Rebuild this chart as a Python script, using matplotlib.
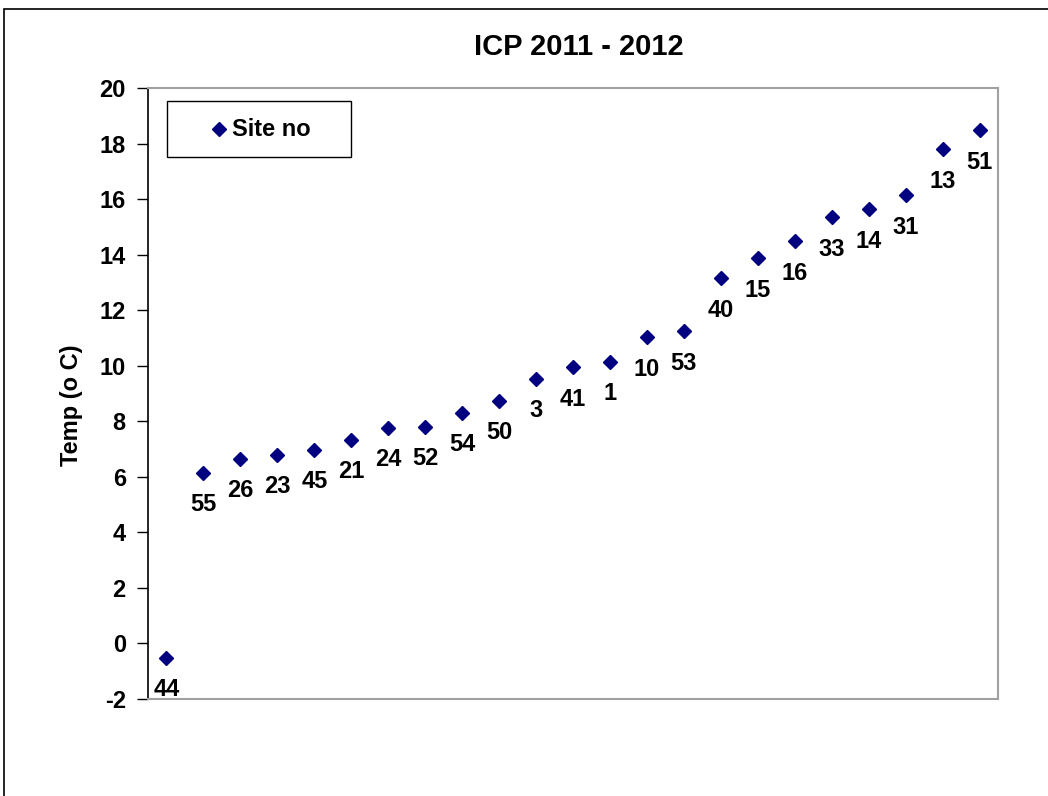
import matplotlib
matplotlib.use("Agg")
import matplotlib.pyplot as plt
from matplotlib.patches import Rectangle

plt.rcParams['font.family'] = ['Liberation Sans', 'DejaVu Sans']
plt.rcParams['font.weight'] = 'bold'

site_labels = ['44', '55', '26', '23', '45', '21', '24', '52', '54', '50', '3', '41',
               '1', '10', '53', '40', '15', '16', '33', '14', '31', '13', '51']
temps = [-0.52, 6.15, 6.65, 6.8, 6.98, 7.34, 7.77, 7.81, 8.31, 8.74, 9.54, 9.94,
         10.15, 11.02, 11.24, 13.15, 13.87, 14.48, 15.35, 15.64, 16.14, 17.8, 18.48]
y_ticks = list(range(-2, 21, 2))

W, H = 1048, 796
fig = plt.figure(figsize=(W / 100, H / 100), dpi=100)
fig.patch.set_facecolor('white')

# outer frame (cropped on right/bottom)
fig.patches.append(Rectangle((4 / W, -0.5), 1.5, (H - 9) / H + 0.5,
                             transform=fig.transFigure, fill=False,
                             edgecolor='black', linewidth=1.2))

AX_L, AX_R, AX_T, AX_B = 148, 998, 88, 699
ax = fig.add_axes([AX_L / W, (H - AX_B) / H, (AX_R - AX_L) / W, (AX_B - AX_T) / H])
xs = list(range(1, len(temps) + 1))
ax.plot(xs, temps, linestyle='none', marker='D', markersize=7.5,
        color='#000080', label='Site no')

for x, y, s in zip(xs, temps, site_labels):
    ax.annotate(s, (x, y), xytext=(0, -32), textcoords='offset pixels',
                ha='center', va='center', fontsize=17, fontweight='bold')

ax.set_xlim(0.5, len(temps) + 0.5)
ax.set_ylim(-2, 20)
ax.set_yticks(y_ticks)
ax.set_yticklabels([str(t) for t in y_ticks], fontsize=17, fontweight='bold')
ax.set_xticks([])
ax.tick_params(axis='y', direction='out', length=8, width=1, pad=8)

for side in ['top', 'right', 'bottom']:
    ax.spines[side].set_color('#a0a0a0')
    ax.spines[side].set_linewidth(1.5)
ax.spines['left'].set_color('black')
ax.spines['left'].set_linewidth(1.2)

ax.set_ylabel('Temp (o C)', fontsize=17, fontweight='bold')
ax.yaxis.set_label_coords((83 - AX_L) / (AX_R - AX_L), (AX_B - 405) / (AX_B - AX_T))
fig.text(579 / W, 1 - 47 / H, 'ICP 2011 - 2012', ha='center', va='center',
         fontsize=21, fontweight='bold')

# legend box drawn to match the reference's proportions
def ax_frac(px, py):
    return ((px - AX_L) / (AX_R - AX_L), (AX_B - py) / (AX_B - AX_T))

lx0, ly0 = ax_frac(167, 157)
lx1, ly1 = ax_frac(351, 101)
ax.add_patch(Rectangle((lx0, ly0), lx1 - lx0, ly1 - ly0, transform=ax.transAxes,
                       fill=True, facecolor='white', edgecolor='black',
                       linewidth=1.0, zorder=5))
mx, my = ax_frac(219, 129)
ax.plot([mx], [my], transform=ax.transAxes, linestyle='none', marker='D',
        markersize=7.5, color='#000080', zorder=6, clip_on=False)
tx, ty = ax_frac(232, 130)
ax.text(tx, ty, 'Site no', transform=ax.transAxes, ha='left', va='center',
        fontsize=17, fontweight='bold', zorder=6)

fig.savefig('out.png', dpi=100)
